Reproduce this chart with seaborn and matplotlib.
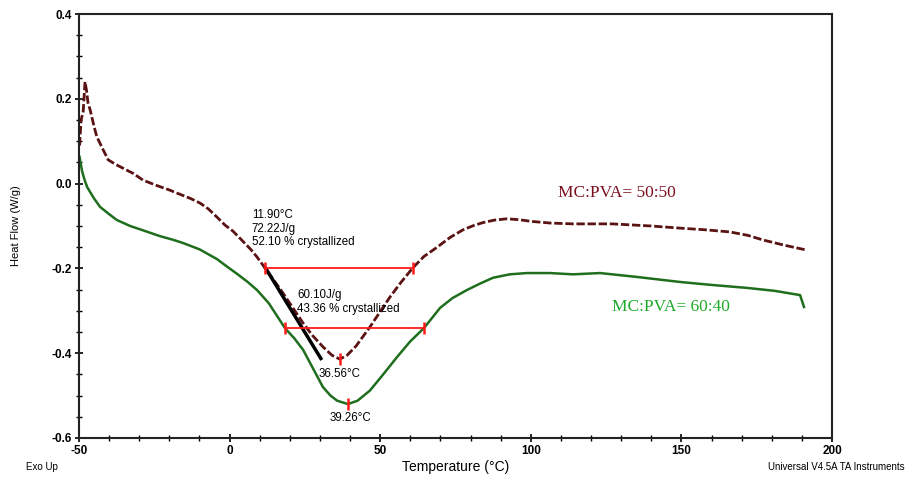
import matplotlib
matplotlib.use("Agg")
import matplotlib.pyplot as plt
from matplotlib.ticker import MultipleLocator, StrMethodFormatter
import seaborn as sns
import pandas as pd

# MC:PVA = 50:50 trace (dark red, dashed)
temp_5050 = [-49.8, -49.3, -48.6, -48.0, -47.5, -47.0, -46.3, -45.0, -44.1, -42.0, -40.3, -38.0,
             -36.4, -32.0, -28.7, -24.0, -20.0, -17.6, -13.0, -9.8, -7.0, -4.2, -1.5, 1.1, 4.0,
             7.0, 9.1, 11.75, 14.5, 17.7, 21.0, 24.4, 27.5, 31.0, 34.0, 36.6, 39.0, 42.0, 46.6,
             50.0, 53.3, 57.0, 60.8, 64.5, 68.9, 73.2, 77.5, 81.0, 84.1, 88.0, 92.1, 96.0, 100.0,
             106.4, 114.0, 127.0, 140.0, 149.5, 158.0, 166.1, 172.0, 177.1, 184.0, 191.7]
flow_5050 = [0.090, 0.150, 0.170, 0.240, 0.220, 0.190, 0.174, 0.135, 0.111, 0.080, 0.056, 0.046,
             0.040, 0.024, 0.008, -0.005, -0.015, -0.022, -0.035, -0.046, -0.060, -0.079, -0.098,
             -0.112, -0.133, -0.155, -0.173, -0.199, -0.226, -0.258, -0.293, -0.329, -0.358,
             -0.385, -0.405, -0.414, -0.405, -0.383, -0.338, -0.302, -0.267, -0.232, -0.199,
             -0.172, -0.150, -0.127, -0.109, -0.099, -0.092, -0.086, -0.083, -0.085, -0.089,
             -0.093, -0.095, -0.095, -0.100, -0.105, -0.109, -0.114, -0.122, -0.133, -0.145,
             -0.157]

# MC:PVA = 60:40 trace (green)
temp_6040 = [-49.8, -49.0, -48.2, -47.3, -45.0, -43.0, -40.0, -37.4, -33.0, -28.0, -23.1, -19.0,
             -15.5, -10.0, -4.2, -1.0, 2.5, 6.0, 9.1, 13.0, 18.4, 21.5, 24.4, 28.0, 31.0, 33.5,
             35.7, 39.3, 42.5, 46.6, 51.0, 55.6, 60.0, 64.5, 69.9, 74.0, 78.8, 83.1, 87.5, 93.0,
             98.7, 106.4, 114.0, 123.0, 135.0, 149.5, 160.0, 171.8, 181.0, 189.4, 190.7]
flow_6040 = [0.063, 0.030, 0.010, -0.008, -0.035, -0.055, -0.072, -0.086, -0.100, -0.112, -0.124,
             -0.132, -0.140, -0.155, -0.178, -0.195, -0.213, -0.232, -0.251, -0.282, -0.341,
             -0.365, -0.392, -0.440, -0.480, -0.500, -0.512, -0.520, -0.512, -0.488, -0.450,
             -0.409, -0.372, -0.341, -0.293, -0.270, -0.251, -0.236, -0.222, -0.214, -0.211,
             -0.211, -0.214, -0.211, -0.220, -0.232, -0.239, -0.246, -0.253, -0.263, -0.291]

# integration baselines, onset tangent and peak markers
base_5050_t = [11.75, 60.8]
base_5050_y = [-0.199, -0.199]
base_6040_t = [18.4, 64.5]
base_6040_y = [-0.341, -0.341]
onset_t = [11.75, 30.6]
onset_y = [-0.197, -0.416]
peak_t = [36.56, 39.26]
peak_y = [-0.414, -0.520]

dark = "#5a1212"
green = "#1e6e1e"
red = "#ff1a1a"

plt.rcParams["axes.unicode_minus"] = False

fig = plt.figure(figsize=(9.11, 4.78), dpi=100)
ax = fig.add_axes([0.0867, 0.0837, 0.8266, 0.887])

df_a = pd.DataFrame({"t": temp_5050, "q": flow_5050})
df_b = pd.DataFrame({"t": temp_6040, "q": flow_6040})
sns.lineplot(data=df_b, x="t", y="q", sort=False, estimator=None, color=green, lw=1.8, ax=ax)
sns.lineplot(data=df_a, x="t", y="q", sort=False, estimator=None, color=dark, lw=2.0,
             linestyle=(0, (3, 1)), ax=ax)

ax.plot(onset_t, onset_y, color="black", lw=2.5, solid_capstyle="butt")
ax.plot(base_5050_t, base_5050_y, color=red, lw=1.3, marker="|", ms=9, mew=1.8)
ax.plot(base_6040_t, base_6040_y, color=red, lw=1.3, marker="|", ms=9, mew=1.8)
ax.plot(peak_t, peak_y, color=red, lw=0, marker="|", ms=9, mew=1.8)

tfont = dict(fontsize=8.3, color="black", family="Liberation Sans")
ax.text(7.4, -0.106, "11.90°C\n72.22J/g\n52.10 % crystallized", va="center", ha="left",
        linespacing=1.15, **tfont)
ax.text(22.5, -0.279, "60.10J/g\n43.36 % crystallized", va="center", ha="left",
        linespacing=1.15, **tfont)
ax.text(36.4, -0.450, "36.56°C", ha="center", va="center", **tfont)
ax.text(40.2, -0.553, "39.26°C", ha="center", va="center", **tfont)

ax.text(128.5, -0.022, "MC:PVA= 50:50", color="#7a0f1e", fontsize=12.5,
        family="Liberation Serif", ha="center", va="center")
ax.text(146.5, -0.290, "MC:PVA= 60:40", color="#1faa2a", fontsize=12.5,
        family="Liberation Serif", ha="center", va="center")

ax.set_xlim(-50, 200)
ax.set_ylim(-0.6, 0.4)
ax.xaxis.set_major_locator(MultipleLocator(50))
ax.xaxis.set_minor_locator(MultipleLocator(10))
ax.yaxis.set_major_locator(MultipleLocator(0.2))
ax.yaxis.set_minor_locator(MultipleLocator(0.05))
ax.xaxis.set_major_formatter(StrMethodFormatter("{x:.0f}"))
ax.yaxis.set_major_formatter(StrMethodFormatter("{x:.1f}"))
ax.tick_params(which="major", direction="inout", length=6, width=1.2, labelsize=8.5, pad=2)
ax.tick_params(which="minor", direction="inout", length=4, width=1)
for lbl in ax.get_xticklabels() + ax.get_yticklabels():
    lbl.set_fontweight("bold")
    lbl.set_family("Liberation Sans")

for s in ax.spines.values():
    s.set_linewidth(1.5)
    s.set_color("#222222")

ax.set_xlabel("Temperature (°C)", fontsize=10, family="Liberation Sans", labelpad=2)
ax.set_ylabel("Heat Flow (W/g)", fontsize=8, family="Liberation Sans", labelpad=22)

fig.text(26 / 911, 1 - 467 / 478, "Exo Up", fontsize=7, family="Liberation Sans",
         va="center", ha="left")
fig.text(905 / 911, 1 - 467 / 478, "Universal V4.5A TA Instruments", fontsize=7,
         family="Liberation Sans", va="center", ha="right")

fig.savefig("out.png", dpi=100)
